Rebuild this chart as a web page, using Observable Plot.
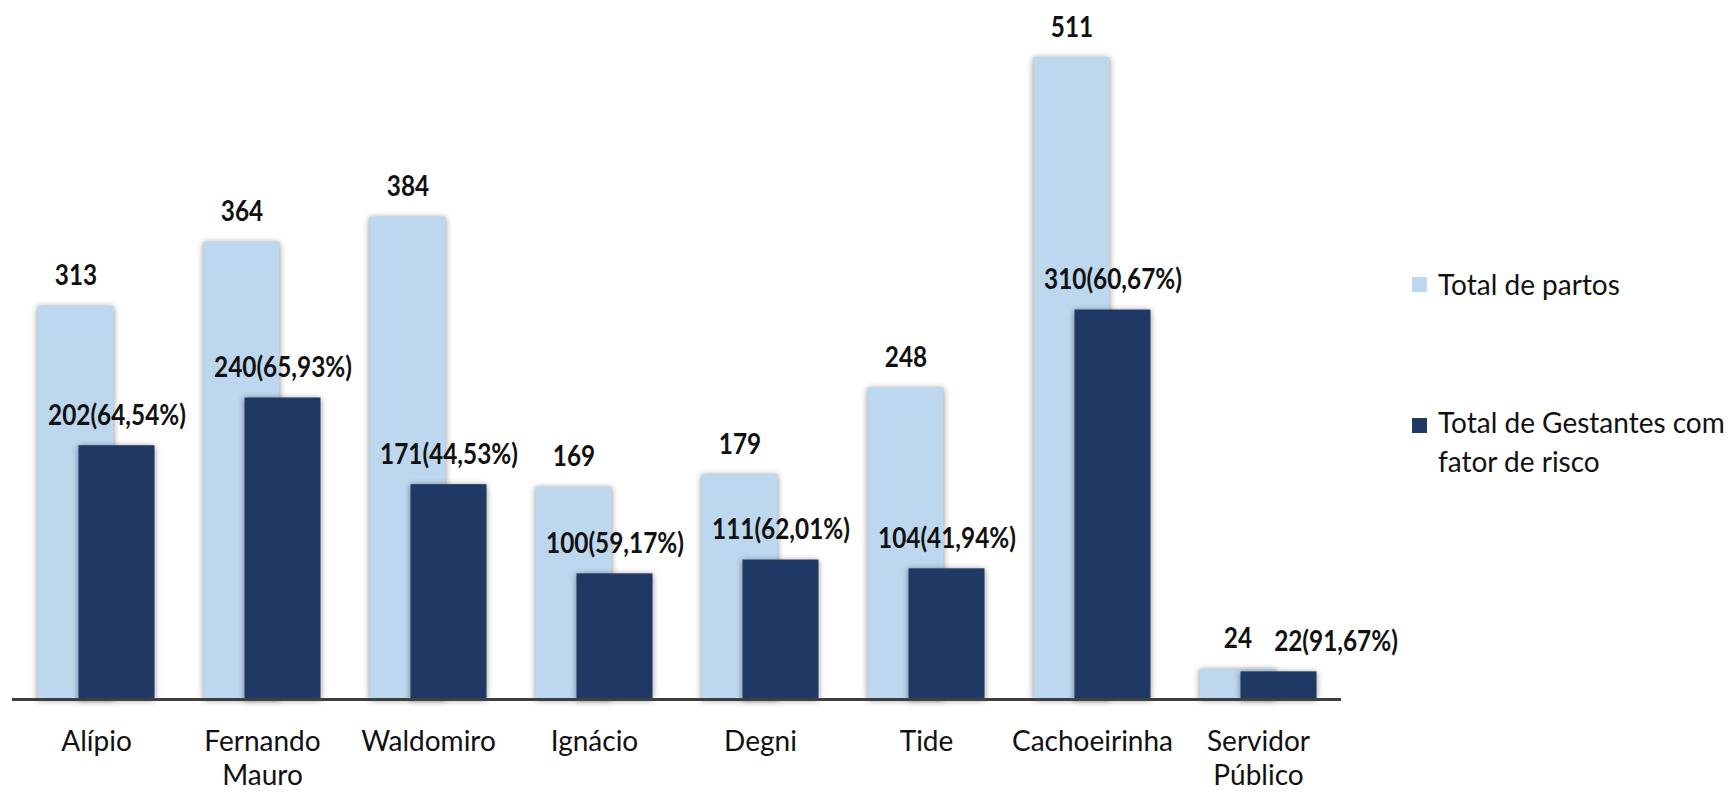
<!DOCTYPE html>
<html>
<head>
<meta charset="utf-8">
<script src="https://cdn.jsdelivr.net/npm/d3@7"></script>
<script src="https://cdn.jsdelivr.net/npm/@observablehq/plot@0.6"></script>
<style>
  html, body { margin: 0; padding: 0; background: #fff; }
  #wrap { position: relative; width: 1728px; height: 793px; overflow: hidden; }
  #legend { position: absolute; left: 1412px; top: 0; font-family: Lato, "Liberation Sans", sans-serif; font-size: 28px; color: #111; }
  .sw { position: absolute; left: 0; width: 15px; height: 15px; }
  .lbl { position: absolute; left: 26px; line-height: 39px; white-space: nowrap; }
</style>
</head>
<body>
<div id="wrap"></div>
<script>
const categories = ["Alípio", "Fernando\nMauro", "Waldomiro", "Ignácio", "Degni", "Tide", "Cachoeirinha", "Servidor\nPúblico"];
const totalPartos = [313, 364, 384, 169, 179, 248, 511, 24];
const gestantesRisco = [202, 240, 171, 100, 111, 104, 310, 22];
const percentLabels = ["64,54%", "65,93%", "44,53%", "59,17%", "62,01%", "41,94%", "60,67%", "91,67%"];
const seriesNames = ["Total de partos", "Total de Gestantes com\nfator de risco"];
const seriesColors = ["#BDD7EE", "#203864"];

const data = categories.map((c, i) => ({
  cat: c, partos: totalPartos[i], risco: gestantesRisco[i], pct: percentLabels[i], last: i === categories.length - 1
}));

const boldFont = { fontFamily: "Lato, 'Liberation Sans', sans-serif", fontWeight: "bold", fontSize: 29, fill: "#111" };

const chart = Plot.plot({
  width: 1728, height: 793,
  marginLeft: 12, marginRight: 387, marginTop: 57, marginBottom: 94,
  x: { domain: categories, padding: 0, label: null },
  y: { domain: [0, d3.max(totalPartos)], axis: null },
  style: { fontFamily: "Lato, 'Liberation Sans', sans-serif", background: "#fff", color: "#111" },
  marks: [
    Plot.barY(data, { x: "cat", y: "partos", fill: seriesColors[0], insetLeft: 24.5, insetRight: 65.5 }),
    Plot.barY(data, { x: "cat", y: "risco", fill: seriesColors[1], insetLeft: 65.5, insetRight: 24.5 }),
    Plot.ruleY([0], { stroke: "#3f3f3f", strokeWidth: 3 }),
    Plot.text(data, { x: "cat", y: "partos", text: d => String(d.partos), dx: -20.5, dy: -21, lineAnchor: "bottom", ...boldFont }),
    Plot.text(data.filter(d => !d.last), { x: "cat", y: "risco", text: d => `${d.risco}(${d.pct})`, dx: 20.5, dy: -21, lineAnchor: "bottom", ...boldFont }),
    Plot.text(data.filter(d => d.last), { x: "cat", y: "risco", text: d => `${d.risco}(${d.pct})`, dx: 77.5, dy: -21, lineAnchor: "bottom", ...boldFont }),
    Plot.axisX({ tickSize: 0, tickPadding: 28, fontSize: 28, lineHeight: 1.2, label: null, fill: "#111" })
  ]
});

chart.querySelectorAll('g[aria-label="bar"]').forEach(g => {
  g.style.filter = "drop-shadow(0px 1px 3px rgba(0,0,0,0.45))";
});

// Narrow the bold value labels horizontally (the source font is condensed)
chart.querySelectorAll('g[aria-label="text"] text').forEach(t => {
  const tr = t.getAttribute("transform");
  if (tr) {
    t.setAttribute("transform", tr + " scale(0.84,1)");
  } else {
    const x = +t.getAttribute("x") || 0, y = +t.getAttribute("y") || 0;
    t.removeAttribute("x"); t.removeAttribute("y");
    t.setAttribute("transform", `translate(${x},${y}) scale(0.84,1)`);
  }
});

const wrap = document.getElementById("wrap");
wrap.appendChild(chart);

const legend = document.createElement("div");
legend.id = "legend";
const swatchTops = [277, 418];
const labelTops = [265, 403];
seriesNames.forEach((name, i) => {
  const sw = document.createElement("div");
  sw.className = "sw";
  sw.style.top = swatchTops[i] + "px";
  sw.style.background = seriesColors[i];
  const lbl = document.createElement("div");
  lbl.className = "lbl";
  lbl.style.top = labelTops[i] + "px";
  lbl.innerHTML = name.replace("\n", "<br>");
  legend.appendChild(sw);
  legend.appendChild(lbl);
});
wrap.appendChild(legend);
</script>
</body>
</html>
